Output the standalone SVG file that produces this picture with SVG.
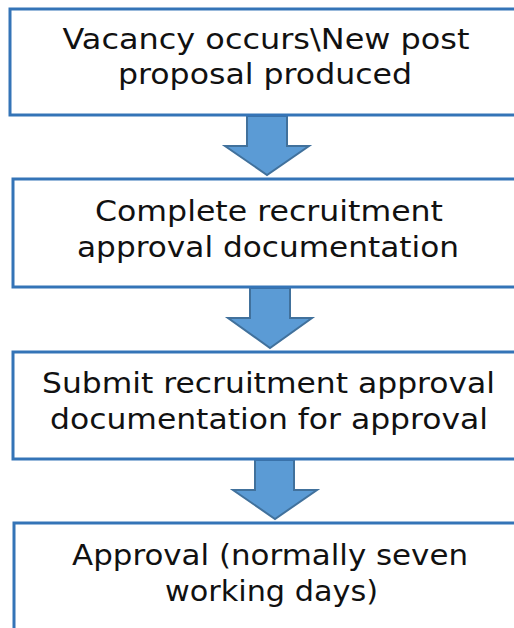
<svg xmlns="http://www.w3.org/2000/svg" width="514" height="628" viewBox="0 0 514 628">
  <style>
    .box { fill: #ffffff; stroke: #3474b7; stroke-width: 3; }
    .arrow { fill: #5b9bd5; stroke: #41719c; stroke-width: 2; stroke-linejoin: miter; }
    .label { font-family: "DejaVu Sans", "Open Sans", sans-serif; font-size: 29px; fill: #111111; text-anchor: middle; }
  </style>
  <rect width="514" height="628" fill="#ffffff"/>

  <g id="connectors">
    <polygon class="arrow" points="247,116 287,116 287,146 309,146 267,175 225,146 247,146"/>
    <polygon class="arrow" points="250,288 290,288 290,318 312,318 270,348 228,318 250,318"/>
    <polygon class="arrow" points="255,460 294,460 294,490 317,490 275,519 233,490 255,490"/>
  </g>

  <g id="step-vacancy">
    <rect class="box" x="10" y="9" width="520" height="106"/>
    <text class="label" x="266" y="49" textLength="407" lengthAdjust="spacingAndGlyphs">Vacancy occurs\New post</text>
    <text class="label" x="265" y="84" textLength="294" lengthAdjust="spacingAndGlyphs">proposal produced</text>
  </g>

  <g id="step-complete">
    <rect class="box" x="13" y="179" width="520" height="108"/>
    <text class="label" x="269" y="221" textLength="348" lengthAdjust="spacingAndGlyphs">Complete recruitment</text>
    <text class="label" x="268" y="257" textLength="382" lengthAdjust="spacingAndGlyphs">approval documentation</text>
  </g>

  <g id="step-submit">
    <rect class="box" x="13" y="352" width="520" height="107"/>
    <text class="label" x="268.5" y="393" textLength="453" lengthAdjust="spacingAndGlyphs">Submit recruitment approval</text>
    <text class="label" x="269" y="429" textLength="438" lengthAdjust="spacingAndGlyphs">documentation for approval</text>
  </g>

  <g id="step-approval">
    <rect class="box" x="14" y="523" width="520" height="120"/>
    <text class="label" x="270" y="565" textLength="396" lengthAdjust="spacingAndGlyphs">Approval (normally seven</text>
    <text class="label" x="271.5" y="601" textLength="213" lengthAdjust="spacingAndGlyphs">working days)</text>
  </g>
</svg>
